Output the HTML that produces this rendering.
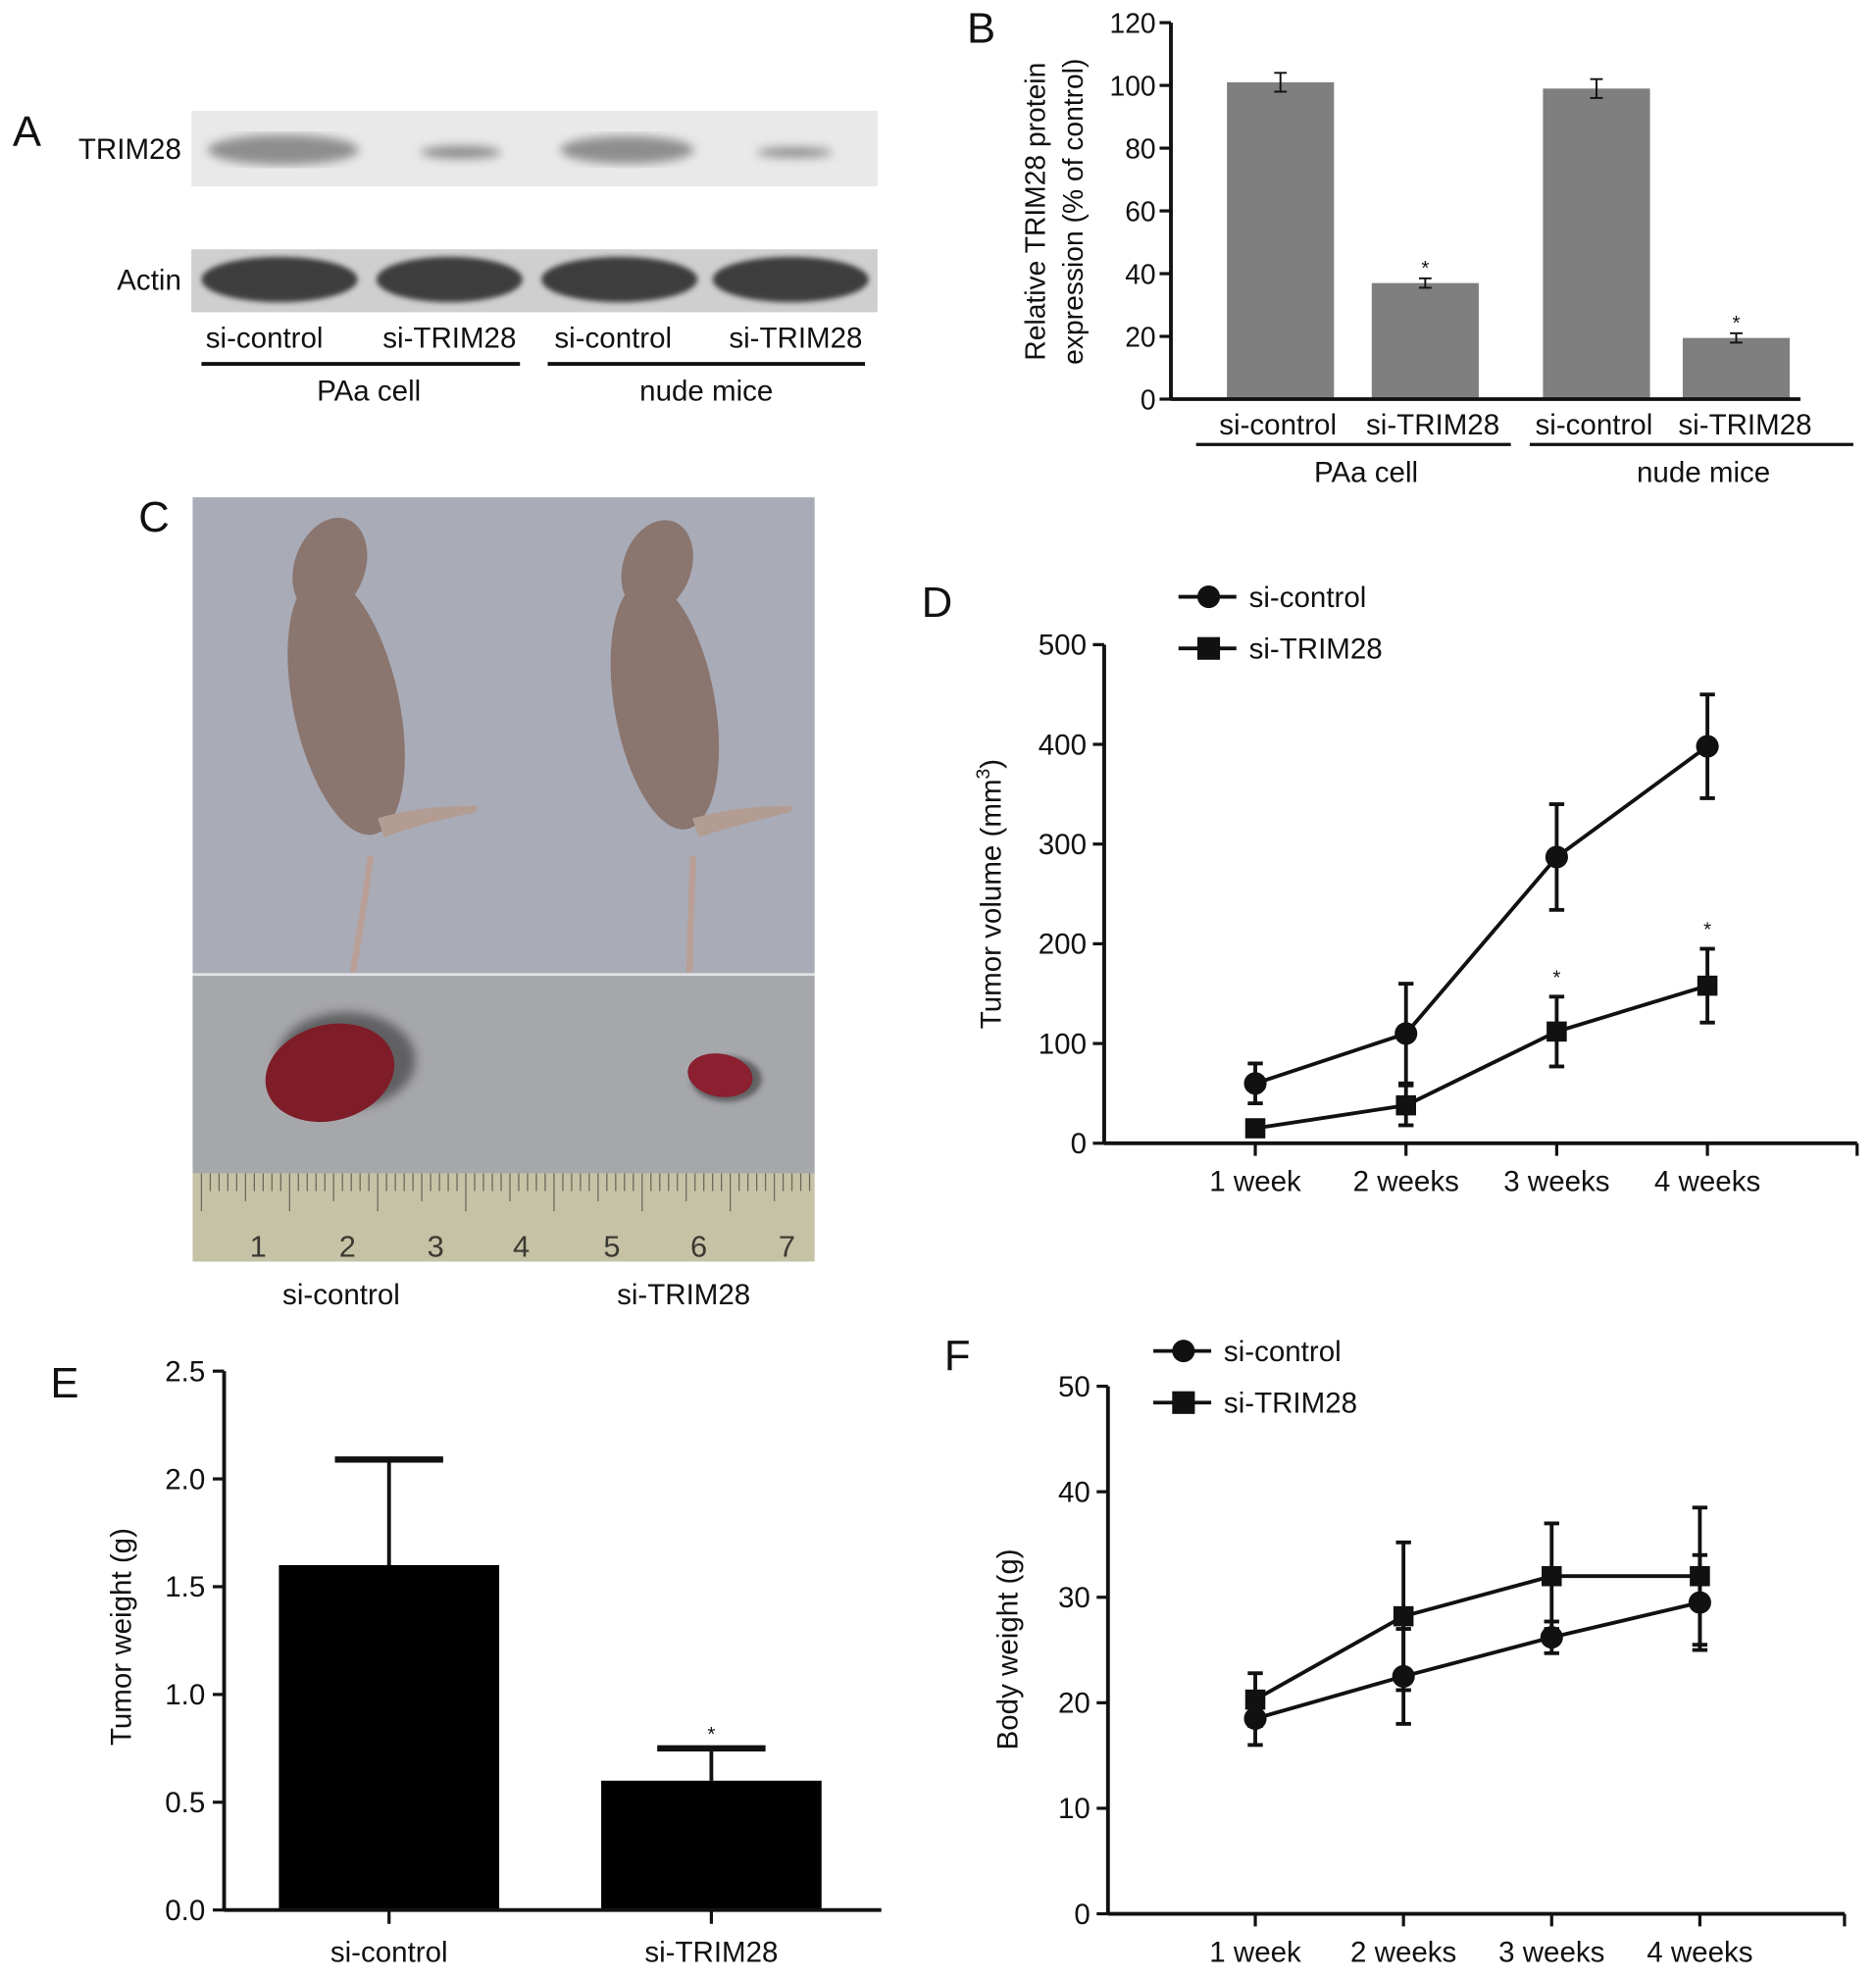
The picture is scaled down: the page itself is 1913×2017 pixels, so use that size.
<!DOCTYPE html>
<html><head><meta charset="utf-8"><style>
html,body{margin:0;padding:0;background:#fff;}
svg{display:block;}
text{font-family:"Liberation Sans",Arial,sans-serif;fill:#111;}
</style></head><body>
<svg id="fig" width="1913" height="2017" viewBox="0 0 1490 1571" preserveAspectRatio="none" xmlns="http://www.w3.org/2000/svg">
<defs>
<filter id="blur4"><feGaussianBlur stdDeviation="4"/></filter>
<filter id="blur2"><feGaussianBlur stdDeviation="2"/></filter>
</defs>
<!-- Panel A -->
<g>
<text x="10" y="116" font-size="34">A</text>
<rect x="152" y="88" width="545" height="60" fill="#e9e9e9"/>
<g filter="url(#blur4)">
<ellipse cx="225" cy="119" rx="60" ry="12" fill="#8e8e8e"/>
<ellipse cx="366" cy="121" rx="32" ry="5" fill="#8a8a8a"/>
<ellipse cx="498" cy="119" rx="53" ry="11" fill="#8e8e8e"/>
<ellipse cx="631" cy="121" rx="30" ry="4" fill="#8a8a8a"/>
</g>
<rect x="152" y="198" width="545" height="50" fill="#cfcfcf"/>
<g filter="url(#blur2)">
<ellipse cx="222" cy="222" rx="62" ry="18" fill="#3c3c3c"/>
<ellipse cx="357" cy="222" rx="58" ry="18" fill="#3c3c3c"/>
<ellipse cx="492" cy="222" rx="62" ry="18" fill="#3c3c3c"/>
<ellipse cx="628" cy="222" rx="62" ry="18" fill="#3c3c3c"/>
</g>
<text x="144" y="126" font-size="23" text-anchor="end">TRIM28</text>
<text x="144" y="230" font-size="23" text-anchor="end">Actin</text>
<g font-size="23" text-anchor="middle">
<text x="210" y="276">si-control</text><text x="357" y="276">si-TRIM28</text>
<text x="487" y="276">si-control</text><text x="632" y="276">si-TRIM28</text>
<text x="293" y="318">PAa cell</text><text x="561" y="318">nude mice</text>
</g>
<line x1="160" y1="289" x2="413" y2="289" stroke="#111" stroke-width="3"/>
<line x1="435" y1="289" x2="687" y2="289" stroke="#111" stroke-width="3"/>
</g>
<g id="panelB">
<text x="768" y="34" font-size="34">B</text>
</g>
<!-- Panel C -->
<g>
<text x="110" y="422" font-size="34">C</text>
<rect x="153" y="395" width="494" height="378" fill="#a9abb6"/>
<rect x="153" y="773" width="494" height="2" fill="#e4e4e8"/>
<rect x="153" y="775" width="494" height="157" fill="#a6a7ab"/>
<rect x="153" y="932" width="494" height="70" fill="#c6c2a6"/>
<g fill="#8a756f">
<ellipse cx="275" cy="560" rx="42" ry="105" transform="rotate(-12 275 560)"/>
<ellipse cx="262" cy="450" rx="28" ry="40" transform="rotate(20 262 450)"/>
<path d="M300 650 Q330 640 380 640 L378 645 Q330 655 305 665Z" fill="#b39c92"/>
<path d="M292 680 Q285 730 278 772 L283 772 Q290 730 297 680Z" fill="#b99f95"/>
<ellipse cx="528" cy="560" rx="40" ry="100" transform="rotate(-10 528 560)"/>
<ellipse cx="522" cy="450" rx="27" ry="38" transform="rotate(20 522 450)"/>
<path d="M550 650 Q585 640 630 640 L628 645 Q585 655 555 665Z" fill="#b39c92"/>
<path d="M548 680 Q546 730 545 772 L550 772 Q551 730 553 680Z" fill="#b99f95"/>
</g>
<ellipse cx="275" cy="842" rx="55" ry="38" fill="#333" opacity="0.6" filter="url(#blur4)"/>
<ellipse cx="262" cy="852" rx="52" ry="38" fill="#7e1c27" transform="rotate(-15 262 852)"/>
<ellipse cx="577" cy="857" rx="28" ry="18" fill="#333" opacity="0.6" filter="url(#blur2)"/>
<ellipse cx="572" cy="854" rx="26" ry="17" fill="#8a2030" transform="rotate(10 572 854)"/>
<g id="ruler" stroke="#6a6a5a" stroke-width="1"></g>
<g font-size="24" font-family="Liberation Serif" fill="#3a3a30" text-anchor="middle">
<text x="205" y="998" style="fill:#3a3a30">1</text><text x="276" y="998" style="fill:#3a3a30">2</text><text x="346" y="998" style="fill:#3a3a30">3</text><text x="414" y="998" style="fill:#3a3a30">4</text><text x="486" y="998" style="fill:#3a3a30">5</text><text x="555" y="998" style="fill:#3a3a30">6</text><text x="625" y="998" style="fill:#3a3a30">7</text>
</g>
<g font-size="23" text-anchor="middle">
<text x="271" y="1036">si-control</text><text x="543" y="1036">si-TRIM28</text>
</g>
</g>
<g id="panelD">
<text x="732" y="490" font-size="34">D</text>
</g>
<g id="panelE">
<text x="40" y="1110" font-size="34">E</text>
</g>
<g id="panelF">
<text x="750" y="1088" font-size="34">F</text>
</g>
</svg>
<script>
// ---- Panel B data ----
const bCategories = ["si-control","si-TRIM28","si-control","si-TRIM28"];
const bValues = [101, 37, 99, 19.5];
const bErrors = [3, 1.5, 3, 1.5];
const bTicks = [0,20,40,60,80,100,120];
// ---- Panel D data ----
const dCategories = ["1 week","2 weeks","3 weeks","4 weeks"];
const dControl = [60, 110, 287, 398];
const dControlErr = [20, 50, 53, 52];
const dTrim = [15, 38, 112, 158];
const dTrimErr = [8, 20, 35, 37];
const dTicks = [0,100,200,300,400,500];
// ---- Panel E data ----
const eCategories = ["si-control","si-TRIM28"];
const eValues = [1.6, 0.6];
const eErrors = [0.49, 0.15];
const eTicks = ["0.0","0.5","1.0","1.5","2.0","2.5"];
// ---- Panel F data ----
const fCategories = ["1 week","2 weeks","3 weeks","4 weeks"];
const fControl = [18.5, 22.5, 26.2, 29.5];
const fControlErr = [2.5, 4.5, 1.5, 4.5];
const fTrim = [20.3, 28.2, 32, 32];
const fTrimErr = [2.5, 7, 5, 6.5];
const fTicks = [0,10,20,30,40,50];

const NS="http://www.w3.org/2000/svg";
function mk(parent, tag, attrs, txt){const e=document.createElementNS(NS,tag);for(const k in attrs)e.setAttribute(k,attrs[k]);if(txt!==undefined)e.textContent=txt;parent.appendChild(e);return e;}

// ruler ticks
(function(){const r=document.getElementById('ruler');for(let i=0;i<70;i++){const x=160+i*7.0;const h=(i%10==0)?30:(i%5==0?22:14);const l=mk(r,'line',{x1:x,y1:932,x2:x,y2:932+h});}})();

function yAxis(g,x,y0,y1,ticks,max,fs,labelX){
  const sy=v=>y0-(v/max)*(y0-y1);
  const ax=mk(g,'line',{x1:x,y1:y0,x2:x,y2:y1,stroke:'#111','stroke-width':3});
  
  ticks.forEach(t=>{const v=parseFloat(t);const y=sy(v);
    mk(g,'line',{x1:x-9,y1:y,x2:x,y2:y,stroke:'#111','stroke-width':2.5});
    const tx=mk(g,'text',{x:labelX,y:y+8,'font-size':fs,'text-anchor':'end'},String(t));
    });
  return sy;
}
function errBar(g,x,y,ylo,yhi,w,sw){
  mk(g,'line',{x1:x,y1:ylo,x2:x,y2:yhi,stroke:'#111','stroke-width':sw});
  mk(g,'line',{x1:x-w,y1:yhi,x2:x+w,y2:yhi,stroke:'#111','stroke-width':sw});
  mk(g,'line',{x1:x-w,y1:ylo,x2:x+w,y2:ylo,stroke:'#111','stroke-width':sw});
}

// Panel B
(function(){const g=document.getElementById('panelB');
  const sy=yAxis(g,930,317,18,bTicks,120,22,918);
  const xs=[1017,1132,1268,1379];const bw=85;
  bValues.forEach((v,i)=>{const r=mk(g,'rect',{x:xs[i]-bw/2,y:sy(v),width:bw,height:317-sy(v),fill:'#7f7f7f'});
    
    errBar(g,xs[i],sy(v),sy(v-bErrors[i]),sy(v+bErrors[i]),5,1.5);});
  [1,3].forEach(i=>mk(g,'text',{x:xs[i],y:sy(bValues[i]+bErrors[i])-3,'font-size':16,'text-anchor':'middle'},'*'));
  mk(g,'line',{x1:930,y1:317,x2:1430,y2:317,stroke:'#111','stroke-width':3});
  const lx=[1015,1138,1266,1386];
  bCategories.forEach((c,i)=>{const t=mk(g,'text',{x:lx[i],y:345,'font-size':23,'text-anchor':'middle'},c);});
  mk(g,'line',{x1:950,y1:353,x2:1200,y2:353,stroke:'#111','stroke-width':2.5});
  mk(g,'line',{x1:1215,y1:353,x2:1472,y2:353,stroke:'#111','stroke-width':2.5});
  mk(g,'text',{x:1085,y:383,'font-size':23,'text-anchor':'middle'},'PAa cell');
  mk(g,'text',{x:1353,y:383,'font-size':23,'text-anchor':'middle'},'nude mice');
  const t1=mk(g,'text',{x:0,y:0,'font-size':22,'text-anchor':'middle',transform:'translate(830,168) rotate(-90)'},'Relative TRIM28 protein');
  
  mk(g,'text',{x:0,y:0,'font-size':22,'text-anchor':'middle',transform:'translate(860,168) rotate(-90)'},'expression (% of control)');
})();

function lineChart(g,o){
  const sy=yAxis(g,o.x0,o.y0,o.y1,o.ticks,o.max,23,o.x0-14);
  mk(g,'line',{x1:o.x0,y1:o.y0,x2:o.xEnd,y2:o.y0,stroke:'#111','stroke-width':3});
  mk(g,'line',{x1:o.xEnd,y1:o.y0,x2:o.xEnd,y2:o.y0+10,stroke:'#111','stroke-width':2.5});
  const sx=i=>o.xFirst+i*o.step;
  o.cats.forEach((c,i)=>{mk(g,'line',{x1:sx(i),y1:o.y0,x2:sx(i),y2:o.y0+10,stroke:'#111','stroke-width':2.5});
    const t=mk(g,'text',{x:sx(i),y:o.y0+38,'font-size':23,'text-anchor':'middle'},c);});
  [[o.s1,o.e1,'circle','si-control'],[o.s2,o.e2,'square','si-TRIM28']].forEach(([s,e,shape,name])=>{
    const pts=s.map((v,i)=>sx(i)+','+sy(v)).join(' ');
    const pl=mk(g,'polyline',{points:pts,fill:'none',stroke:'#111','stroke-width':3});
    
    s.forEach((v,i)=>{errBar(g,sx(i),sy(v),sy(v-e[i]),sy(v+e[i]),6,3);
      let m;if(shape=='circle')m=mk(g,'circle',{cx:sx(i),cy:sy(v),r:9,fill:'#111'});
      else m=mk(g,'rect',{x:sx(i)-8,y:sy(v)-8,width:16,height:16,fill:'#111'});
      });
  });
  // legend
  [['circle','si-control',o.legY1],['square','si-TRIM28',o.legY2]].forEach(([sh,n,y])=>{
    const lg=mk(g,'g',{});
    mk(lg,'line',{x1:o.legX-24,y1:y,x2:o.legX+22,y2:y,stroke:'#111','stroke-width':3});
    if(sh=='circle')mk(lg,'circle',{cx:o.legX,cy:y,r:9,fill:'#111'});else mk(lg,'rect',{x:o.legX-9,y:y-9,width:18,height:18,fill:'#111'});
    mk(lg,'text',{x:o.legX+32,y:y+8,'font-size':23},n);});
  const tt=mk(g,'text',{x:0,y:0,'font-size':23,'text-anchor':'middle',transform:`translate(${o.titleX},${o.titleY}) rotate(-90)`});
  
  if(o.sup){tt.textContent='Tumor volume (mm';const ts=mk(tt,'tspan',{'font-size':15,dy:-9},'3');mk(tt,'tspan',{dy:9},')');}else tt.textContent=o.title;
  return {sx,sy};
}

// Panel D
(function(){const g=document.getElementById('panelD');
  const r=lineChart(g,{x0:877,y0:908,y1:512,max:500,ticks:dTicks,xEnd:1475,xFirst:997,step:119.7,cats:dCategories,
    s1:dControl,e1:dControlErr,s2:dTrim,e2:dTrimErr,legX:960,legY1:474,legY2:515,titleX:795,titleY:710,sup:true});
  [2,3].forEach(i=>mk(g,'text',{x:r.sx(i),y:r.sy(dTrim[i]+dTrimErr[i])-10,'font-size':16,'text-anchor':'middle'},'*'));
})();

// Panel F
(function(){const g=document.getElementById('panelF');
  lineChart(g,{x0:880,y0:1520,y1:1101,max:50,ticks:fTicks,xEnd:1465,xFirst:997,step:117.7,cats:fCategories,
    s1:fControl,e1:fControlErr,s2:fTrim,e2:fTrimErr,legX:940,legY1:1073,legY2:1114,titleX:808,titleY:1310,title:'Body weight (g)'});
})();

// Panel E
(function(){const g=document.getElementById('panelE');
  const sy=yAxis(g,178,1517,1089,eTicks,2.5,23,163);
  const xs=[309,565];const bw=175;
  eValues.forEach((v,i)=>{
    mk(g,'line',{x1:xs[i],y1:sy(v),x2:xs[i],y2:sy(v+eErrors[i]),stroke:'#111','stroke-width':3});
    mk(g,'line',{x1:xs[i]-43,y1:sy(v+eErrors[i]),x2:xs[i]+43,y2:sy(v+eErrors[i]),stroke:'#111','stroke-width':5});
    const r=mk(g,'rect',{x:xs[i]-bw/2,y:sy(v),width:bw,height:1517-sy(v),fill:'#000'});
    
    mk(g,'line',{x1:xs[i],y1:1517,x2:xs[i],y2:1528,stroke:'#111','stroke-width':2.5});
    const t=mk(g,'text',{x:xs[i],y:1558,'font-size':23,'text-anchor':'middle'},eCategories[i]);
  });
  mk(g,'text',{x:xs[1],y:sy(eValues[1]+eErrors[1])-6,'font-size':16,'text-anchor':'middle'},'*');
  mk(g,'line',{x1:178,y1:1517,x2:700,y2:1517,stroke:'#111','stroke-width':3});
  const tt=mk(g,'text',{x:0,y:0,'font-size':23,'text-anchor':'middle',transform:'translate(104,1300) rotate(-90)'},'Tumor weight (g)');
  
})();
</script>
</body></html>
